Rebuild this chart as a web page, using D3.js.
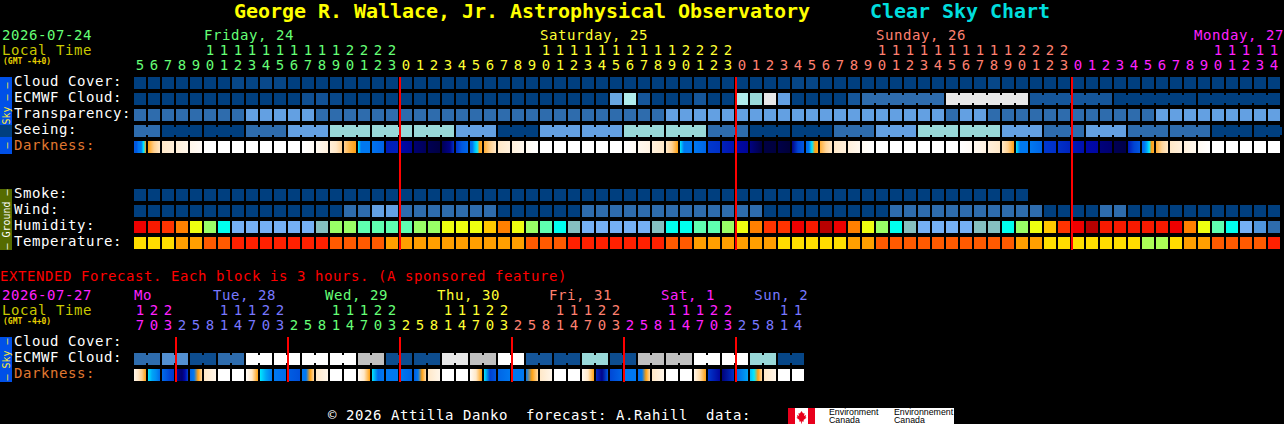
<!DOCTYPE html>
<html><head><meta charset="utf-8">
<style>
html,body{margin:0;padding:0;background:#000;overflow:hidden}
svg{display:block}
text{font-family:"DejaVu Sans Mono",monospace;font-size:14px;letter-spacing:.57px;white-space:pre}
.axis .domain,.axis line{display:none}
.axis text{font-family:"DejaVu Sans Mono",monospace;font-size:14px;letter-spacing:0}
</style>
<script src="https://d3js.org/d3.v7.min.js"></script>
</head><body><svg id="c" width="1284" height="424"></svg>
<script>
/* ---------- categories / tick labels ---------- */
const hoursMain=[5,6,7,8,9,10,11,12,13,14,15,16,17,18,19,20,21,22,23,0,1,2,3,4,5,6,7,8,9,10,11,12,13,14,15,16,17,18,19,20,21,22,23,0,1,2,3,4,5,6,7,8,9,10,11,12,13,14,15,16,17,18,19,20,21,22,23,0,1,2,3,4,5,6,7,8,9,10,11,12,13,14];
const hoursExt=[17,20,23,2,5,8,11,14,17,20,23,2,5,8,11,14,17,20,23,2,5,8,11,14,17,20,23,2,5,8,11,14,17,20,23,2,5,8,11,14,17,20,23,2,5,8,11,14];
const dayStartsMain=[0,19,43,67];
const dayStartsExt=[0,3,11,19,27,35,43];
const dayColors=["#66ff77","#ffff33","#ff8070","#ff22ff"];
const dayColorsExt=["#ff22ff","#7878ff","#66ff77","#ffff33","#ff8070","#ff22ff","#7878ff"];
const dayLabelsMain=["Friday, 24","Saturday, 25","Sunday, 26","Monday, 27"];
const dayLabelColsMain=[5,29,53,75.72];
const dayLabelsExt=["Mo","Tue, 28","Wed, 29","Thu, 30","Fri, 31","Sat, 1","Sun, 2"];
const dayLabelColsExt=[0,5.65,13.65,21.65,29.65,37.65,44.3];
const midnightsMain=[19,43,67];
const midnightsExt=[3,11,19,27,35,43];

/* ---------- series (levels) ---------- */
const cloudCover=[0,0,0,0,0,0,0,.35,.2,.45,.3,0,0,0,0,0,0,0,0,0,0,0,0,0,0,0,0,0,0,0,0,0,0,0,0,0,0,0,0,0,0,0,0,0,0,0,0,.3,.3,0,0,0,0,0,0,0,0,0,0,0,0,.35,0,0,0,0,0,0,0,0,0,0,0,0,0,0,0,0,0,0,0,0];
const ecmwfSingle=[0,0,0,0,0,0,0,0,0,0,0,0,.7,.8,.4,0,0,0,0,0,0,0,0,0,0,0,0,0,0,0,0,0,0,0,3.1,5,1,0,0,.1,1,0,0,5,4,7,3,0,0,0,0,1];
const ecmwfGroups=[2,7,1,0,0];
const transparency=[2,2,2,2,2,2,2,2,3,3,3,3,3,2,2,2,2,2,2,2,2,2,2,2,2,2,2,2,2,2,2,2,2,2,2,2,2,2,3,3,3,3,3,3,3,3,3,3,3,3,3,3,3,3,3,3,3,3,2,3,3,2,2,2,2,2,2,2,2,2,2,2,2,3,3,3,3,3,3,3,3,3];
const seeing=[2,0,0,2,3,4,4,4,3,0,3,3,4,4,2,0,0,2,3,4,4,3,2,3,2,2,0,0];
const smoke=[0,0,0,0,0,0,0,0,0,0,0,0,0,0,0,0,0,0,0,0,0,0,0,0,0,0,0,0,0,0,0,0,0,0,0,0,0,0,0,0,0,0,0,0,0,0,0,0,0,0,0,0,0,0,0,0,0,0,0,0,0,0,0,0];
const wind=[0,0,0,0,0,0,0,0,0,0,0,0,0,0,0,2,2,3,3,2,2,2,2,2,2,2,0,0,0,0,0,0,2,2,2,2,2,2,2,2,2,2,2,2,2,0,0,0,0,0,0,0,0,0,2,2,2,2,2,2,2,2,2,2,2,0,0,0,0,2,2,0,0,0,0,0,0,0,0,0,0,0];
const humidity=[1,1.5,2,3,5,6,8,10,10,10,10,10,10,9,6,6,7,7,7,7,6,6,5,5,5,4,3,5,6,7,8,9,10,10,10,10,10,9,8,8,7,7,6,5,3,2,2,1,1.5,0,1,3,5,6,8,9,10,10,10,10,9,9,8,6,5,4,2,1,0,1.5,1.5,1.5,1.5,1.5,1,3,5,7,8,10,11,12];
const temperature=[3,3,3,2,2,1,1,0,0,0,0,0,0,0,1,1,1,1,2,2,2,2,2,2,2,2,2,2,1,1,1,0,0,0,0,0,0,0,1,1,2,2,2,2,2,2,3,3,3,3,3,2,2,1,1,1,1,1,1,1,1,1,1,2,2,3,3,3,3,3,3,3,4,4,3,2,2,1,1,1,1,0];
const darknessMain=[[4,4,5,5,6,7],[7,8,9],[9,9.5],[9.5,10],[10,10.6],[11],[11],[11],[11],[11],[11],[11],[11,10.5],[10.3,9.6],[9.5,9,8],[8,7.4,7],[6,5,5,5,5],[4.8,4.3],[2.5,2.6],[2,1.6],[1,.6],[.5,.2],[.5,1,1.4,3],[3,4,4.5],[4.6,5,5.6,6,7,7.3],[7.3,8,9],[9,9.6],[9.6,10.2],[10.4,11],[11],[11],[11],[11],[11],[11],[11,10.5],[10.3,9.8],[9.6,9],[9,8,7],[6,5,5,5],[5,4.4],[3.2,3],[2.6,2.3],[2,1.7],[1.3,.2],[.2,.1],[.3,0],[1.4,3.5,4],[4.5,5,6,7,7.2],[7.3,8.2,9],[9,9.6],[9.6,10.2],[10.4,11],[11],[11],[11],[11],[11],[11],[11,10.5],[10.3,9.8],[9.6,9],[9,8,7],[6,5,5,5],[5,4.4],[3.2,3],[3,2.7],[2.4,2.2],[2,1.9],[1.2,1],[.5,.3],[2.4,3.5,4],[4.4,5,5.4,6,7,7.3],[7.3,8.2,9],[9,9.6],[9.6,10.2],[10.4,11],[11],[11],[11],[11],[11]];
const darknessExt=[[10,9,8,7],[6,5.4,5.2,4.6],[4.6,4,3.5,3.2],[2,1.2,1,2,3.4],[4.4,5,7,8.4],[9,10],[11],[11],[10.6,9,7],[6,5.4,5],[5,4.6],[4.2,3.8],[5,5,7,8.4],[9,10],[11],[11],[10.6,9,7],[6,4.6,5],[5,5],[5,4.4],[4.2,5,7,8.4],[9,10],[11],[11],[10.6,9,7],[6,3.4,4],[4.4,5],[5,5],[5,7,8.4],[9,10],[11],[11],[10.4,9,7],[2.8,1.5,4],[3.6,4.4],[5,5],[4.6,5,7,8.4],[9,10],[11],[11],[10,8.4,7],[3.2,1.8],[1.2,3],[4.4,5.4],[5.6,6,7,8.4],[9,10],[11],[11]];
const ecmwfExt=[2,2.7,.6,2,8,8,8,8,6,.6,.6,7,6,8,1,.6,4,.6,6,6,8,8,4,.3];

/* ---------- scales ---------- */
const STEP=14,CELL=12,LEFT=134;
const xMain=d3.scaleBand().domain(d3.range(hoursMain.length)).range([LEFT,LEFT+hoursMain.length*STEP-(STEP-CELL)]).paddingInner((STEP-CELL)/STEP);
const xExt=d3.scaleBand().domain(d3.range(hoursExt.length)).range([LEFT,LEFT+hoursExt.length*STEP-(STEP-CELL)]).paddingInner((STEP-CELL)/STEP);
const colPos=c=>LEFT+c*STEP;
const cloudColor=d3.scaleLinear().domain([0,1,2,3,4,5,6,7,8]).range(["#003f7f","#15569a","#2e6cad","#63a0e2","#99d9d9","#b0ecec","#c0c0c0","#e8e8e8","#ffffff"]);
const humidityColors=["#b80000","#ee0000","#ff3300","#ff8000","#ffc800","#eeff10","#99ff66","#5fffb0","#00ffee","#85bfc0","#75b0f5","#5095dd","#2e6cad"];
const humidityColor=d3.scaleLinear().domain(d3.range(13)).range(humidityColors);
const tempColor=d3.scaleOrdinal().domain([0,1,2,3,4]).range(["#ff2000","#ff5a00","#ff9f00","#ffdd00","#aaff55"]);
const darkColor=d3.scaleLinear().domain(d3.range(12)).range(["#000038","#000070","#0008a8","#0030c8","#0058e0","#0078f0","#00e8ff","#ffa010","#ffd090","#ffe8c8","#fff6ea","#ffffff"]);

const svg=d3.select("#c");
const defs=svg.append("defs");
svg.append("rect").attr("width",1284).attr("height",424).attr("fill","#000");

/* ---------- helpers ---------- */
function label(t,x,y,fill,extra={}){
  const s=svg.append("text").attr("x",x).attr("y",y).attr("fill",fill).text(t);
  Object.entries(extra).forEach(([k,v])=>s.style(k,v));
  return s;
}
function cells(values,x,y,color){
  svg.append("g").attr("shape-rendering","crispEdges").selectAll("rect").data(values).join("rect")
    .attr("x",(d,i)=>x(i)).attr("y",y).attr("width",x.bandwidth()).attr("height",CELL).attr("fill",d=>color(d));
}
/* groups: list of [firstCol,nCols,value] — cells of a group are joined by a narrower bridge */
function grouped(groups,x,y,color){
  const g=svg.append("g").attr("shape-rendering","crispEdges");
  groups.forEach(([s,n,v])=>{
    d3.range(s,s+n).forEach((c,i)=>{
      g.append("rect").attr("x",x(c)).attr("y",y).attr("width",x.bandwidth()).attr("height",CELL).attr("fill",color(v));
      if(i<n-1) g.append("rect").attr("x",x(c)+x.bandwidth()).attr("y",y+2).attr("width",STEP-CELL).attr("height",CELL-4).attr("fill",color(v));
    });
  });
}
function spans(values,firstLen,len,startCol=0){
  let c=startCol;
  return values.map((v,i)=>{const n=i===0?firstLen:len;const r=[c,n,v];c+=n;return r;});
}
function gradCells(values,x,y,prefix){
  const g=svg.append("g").attr("shape-rendering","crispEdges");
  values.forEach((stops,i)=>{
    const id=prefix+i;
    const lg=defs.append("linearGradient").attr("id",id);
    (stops.length===1?[stops[0],stops[0]]:stops).forEach((s,k,a)=>{
      lg.append("stop").attr("offset",k/(a.length-1)).attr("stop-color",darkColor(s));
    });
    g.append("rect").attr("x",x(i)).attr("y",y).attr("width",x.bandwidth()).attr("height",CELL).attr("fill",`url(#${id})`);
  });
}
function hourAxes(hours,x,starts,colors,yTens,yUnits){
  const colorOf=i=>colors[d3.bisectRight(starts,i)-1];
  const mk=(y,fmt)=>{
    const g=svg.append("g").attr("class","axis").attr("transform",`translate(0,${y})`)
      .call(d3.axisTop(x).tickSize(0).tickPadding(0).tickFormat(fmt));
    g.selectAll(".tick text").attr("y",0).attr("dy",0).attr("fill",(d)=>colorOf(d));
  };
  mk(yTens,i=>hours[i]>=10?String(Math.floor(hours[i]/10)):"");
  mk(yUnits,i=>String(hours[i]%10));
}
function redLines(cols,y0,y1){
  svg.append("g").attr("shape-rendering","crispEdges").selectAll("rect").data(cols).join("rect")
    .attr("x",d=>colPos(d)-1).attr("y",y0).attr("width",2).attr("height",y1-y0).attr("fill","#ff0000");
}
function sideBar(y,h,fill,txtFill,t){
  svg.append("rect").attr("x",0).attr("y",y).attr("width",12).attr("height",h).attr("fill",fill).attr("shape-rendering","crispEdges");
  svg.append("text").attr("transform",`translate(10,${y+h/2}) rotate(-90)`).attr("text-anchor","middle").attr("fill",txtFill).style("font-size","10px").style("letter-spacing","0").text(t);
}

/* ---------- header ---------- */
label("George R. Wallace, Jr. Astrophysical Observatory",234,18,"#ffff00",{"font-size":"20px","font-weight":"bold","letter-spacing":"-.04px"});
label("Clear Sky Chart",870,18,"#00dddd",{"font-size":"20px","font-weight":"bold","letter-spacing":"-.04px"});
label("2026-07-24",2,40,"#66ff77");
label("Local Time",2,55,"#c8c800");
label("(GMT -4+0)",3,64,"#e8d000",{"font-size":"8px","font-weight":"bold","letter-spacing":"0"});
dayLabelsMain.forEach((t,i)=>label(t,colPos(dayLabelColsMain[i]),40,dayColors[i]));
hourAxes(hoursMain,xMain,dayStartsMain,dayColors,55,70);

/* ---------- sky block ---------- */
sideBar(77,77,"#0050e8","#ffee33","\u2013 \u2013 Sky \u2013 \u2013");
["Cloud Cover:","ECMWF Cloud:","Transparency:","Seeing:"].forEach((t,i)=>label(t,14,86+16*i,"#ffffff"));
label("Darkness:",14,150,"#e07830");
cells(cloudCover,xMain,77,cloudColor);
cells(ecmwfSingle,xMain,93,cloudColor);
grouped(spans(ecmwfGroups,6,6,ecmwfSingle.length),xMain,93,cloudColor);
cells(transparency,xMain,109,cloudColor);
grouped(spans(seeing,2,3),xMain,125,cloudColor);
gradCells(darknessMain,xMain,141,"dm");

/* ---------- ground block ---------- */
sideBar(189,61,"#556b00","#ffffff","\u2013 Ground \u2013");
["Smoke:","Wind:","Humidity:","Temperature:"].forEach((t,i)=>label(t,14,198+16*i,"#ffffff"));
cells(smoke,xMain,189,cloudColor);
cells(wind,xMain,205,cloudColor);
cells(humidity,xMain,221,humidityColor);
cells(temperature,xMain,237,tempColor);
redLines(midnightsMain,77,250);

/* ---------- extended ---------- */
label("EXTENDED Forecast. Each block is 3 hours. (A sponsored feature)",0,281,"#ff0000");
label("2026-07-27",2,300,"#ff22ff");
label("Local Time",2,315,"#c8c800");
label("(GMT -4+0)",3,324,"#e8d000",{"font-size":"8px","font-weight":"bold","letter-spacing":"0"});
dayLabelsExt.forEach((t,i)=>label(t,colPos(dayLabelColsExt[i]),300,dayColorsExt[i]));
hourAxes(hoursExt,xExt,dayStartsExt,dayColorsExt,315,330);
sideBar(337,45,"#0050e8","#ffee33","\u2013 Sky \u2013");
label("Cloud Cover:",14,346,"#ffffff");
label("ECMWF Cloud:",14,362,"#ffffff");
label("Darkness:",14,378,"#e07830");
grouped(spans(ecmwfExt,2,2),xExt,353,cloudColor);
gradCells(darknessExt,xExt,369,"de");
redLines(midnightsExt,337,382);

/* ---------- footer ---------- */
label("\u00a9 2026 Attilla Danko  forecast: A.Rahill  data:",328,420,"#ffffff");
const logo=svg.append("g");
logo.append("rect").attr("x",788).attr("y",408).attr("width",166).attr("height",16).attr("fill","#fff").attr("shape-rendering","crispEdges");
logo.append("rect").attr("x",788).attr("y",408).attr("width",7).attr("height",16).attr("fill","#e8001c").attr("shape-rendering","crispEdges");
logo.append("rect").attr("x",808).attr("y",408).attr("width",7).attr("height",16).attr("fill","#e8001c").attr("shape-rendering","crispEdges");
logo.append("path").attr("d","M801.5 411l1.6 2.6 1.4-.6-.4 3 2-1-.6 2.2 1 .6-3 2.2.4 1.4h-2v2h-.8v-2h-2l.4-1.4-3-2.2 1-.6-.6-2.2 2 1-.4-3 1.4.6z").attr("fill","#e8001c");
[["Environment",829,414.5],["Canada",829,423],["Environnement",894,414.5],["Canada",894,423]].forEach(([t,x,y])=>{
  svg.append("text").attr("x",x).attr("y",y).attr("fill","#000").style("font-family","'Liberation Sans',sans-serif").style("font-size","8.8px").style("letter-spacing","0").text(t);
});
</script></body></html>
